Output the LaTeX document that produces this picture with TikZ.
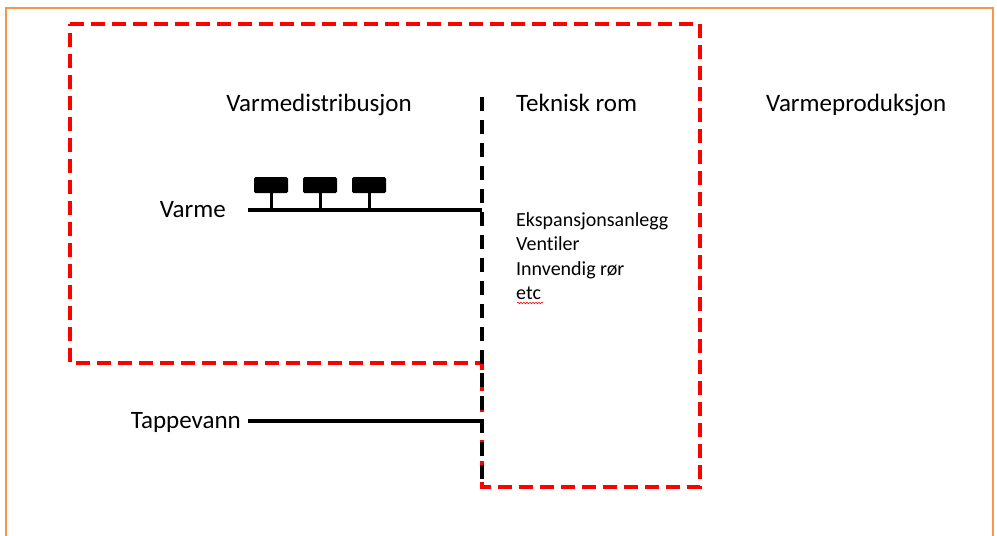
\documentclass[tikz,border=0pt]{standalone}
\usepackage{fontspec}
\setmainfont{Carlito}[Ligatures=CommonOff]
\usetikzlibrary{decorations.pathmorphing}
\definecolor{frameorange}{HTML}{F79646}
\begin{document}
\begin{tikzpicture}[x=1pt,y=-1pt,
  reddash/.style={draw=red,line width=4pt,dash pattern=on 14pt off 7pt},
  blackdash/.style={draw=black,line width=4pt,dash pattern=on 14pt off 9pt},
  pipe/.style={draw=black,line width=3.5pt},
  rad/.style={fill=black,rounded corners=1.5pt},
  big/.style={font=\fontsize{25}{30}\selectfont,inner sep=0pt},
  small/.style={font=\fontsize{20}{24.5}\selectfont,inner sep=0pt,align=left}]
\useasboundingbox (0,0) rectangle (997,536);
\draw[frameorange,line width=1.5pt] (6,545) -- (6,8) -- (993,8) -- (993,545);
% red dashed region
\draw[reddash] (70,24) -- (700,24) -- (700,487) -- (482,487) -- (482,363) -- (70,363) -- cycle;
% black dashed boundary
\coordinate (bt) at (482,97);
\coordinate (bb) at (482,487);
\draw[blackdash] (bt) -- (bb);
% Varme pipe
\coordinate (v0) at (248,210);
\coordinate (v1) at (482,210);
\draw[pipe] (v0) -- (v1);
\foreach \x/\n in {271/a,320/b,369/c}{
  \node[rad,minimum width=34pt,minimum height=16pt,inner sep=0pt] (r\n) at (\x,185) {};
  \draw[line width=3pt] (r\n.south) -- (\x,210);
}
% Tappevann pipe
\coordinate (t0) at (248,421);
\coordinate (t1) at (482,421);
\draw[pipe] (t0) -- (t1);
% texts
\node[big,anchor=base] (vd) at (319,111) {Varmedistribusjon};
\node[big,anchor=base west] (tr) at (516,111) {Teknisk rom};
\node[big,anchor=base west] (vp) at (766,111) {Varmeproduksjon};
\node[big,anchor=base east] (va) at (226,217) {Varme};
\node[big,anchor=base east] (tv) at (241,428) {Tappevann};
\node[small,anchor=base west] (lst) at (516,299.5) {Ekspansjonsanlegg\\Ventiler\\Innvendig rør\\etc};
\draw[red,line width=0.6pt,decorate,decoration={snake,amplitude=0.8pt,segment length=3pt}] (517,303) -- (543,303);
\end{tikzpicture}
\end{document}
